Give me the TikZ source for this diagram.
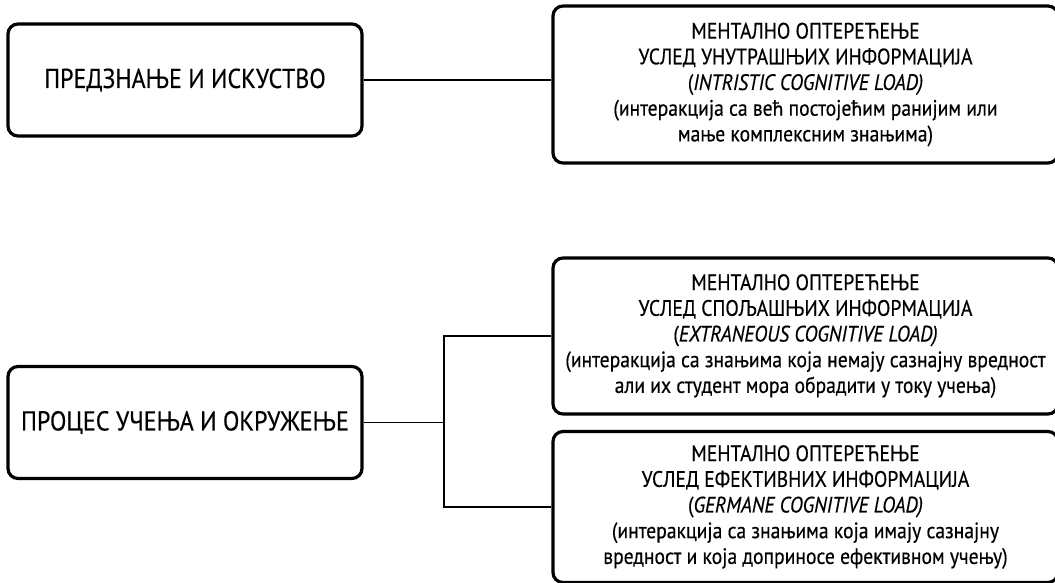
\documentclass[tikz,border=0pt]{standalone}
\usepackage{fontspec}
\setmainfont[FakeStretch=0.88,FakeBold=0.4]{PT Sans}
\begin{document}
\begin{tikzpicture}[x=1pt,y=-1pt,
  leftbox/.style={draw, line width=3.2pt, rounded corners=10pt, minimum width=354pt, minimum height=112pt, inner sep=0pt, font=\fontsize{27.3}{31}\selectfont, align=center},
  rightbox/.style={draw, line width=3.2pt, rounded corners=10pt, minimum width=505pt, inner sep=0pt, font=\fontsize{22.3}{25.7}\selectfont, align=center},
  conn/.style={line width=1.8pt}]
\useasboundingbox (0,0) rectangle (1055,583);
\fill[white] (0,0) rectangle (1055,583);
\clip (0,0) rectangle (1055,583);
\node[leftbox] (b1) at (185,80) {ПРЕДЗНАЊЕ И ИСКУСТВО};
\node[leftbox] (b2) at (185,422.5) {ПРОЦЕС УЧЕЊА И ОКРУЖЕЊЕ};
\node[rightbox, minimum height=157pt] (r1) at (805.5,84.5) {МЕНТАЛНО ОПТЕРЕЋЕЊЕ\\УСЛЕД УНУТРАШЊИХ ИНФОРМАЦИЈА\\(\textit{INTRISTIC COGNITIVE LOAD)}\\(интеракција са већ постојећим ранијим или\\мање комплексним знањима)};
\node[rightbox, minimum height=156pt] (r2) at (805.5,336) {МЕНТАЛНО ОПТЕРЕЋЕЊЕ\\УСЛЕД СПОЉАШЊИХ ИНФОРМАЦИЈА\\(\textit{EXTRANEOUS COGNITIVE LOAD)}\\(интеракција са знањима која немају сазнајну вредност\\али их студент мора обрадити у току учења)};
\node[rightbox, minimum height=151pt] (r3) at (805.5,507) {МЕНТАЛНО ОПТЕРЕЋЕЊЕ\\УСЛЕД ЕФЕКТИВНИХ ИНФОРМАЦИЈА\\(\textit{GERMANE COGNITIVE LOAD)}\\(интеракција са знањима која имају сазнајну\\вредност и која доприносе ефективном учењу)};
\coordinate (br) at (444,422.5);
\draw[conn] (b1.east) -- (b1.east -| r1.west);
\draw[conn] (b2.east) -- (br);
\draw[conn] (r2.west) -| (br) |- (r3.west);
\end{tikzpicture}
\end{document}
